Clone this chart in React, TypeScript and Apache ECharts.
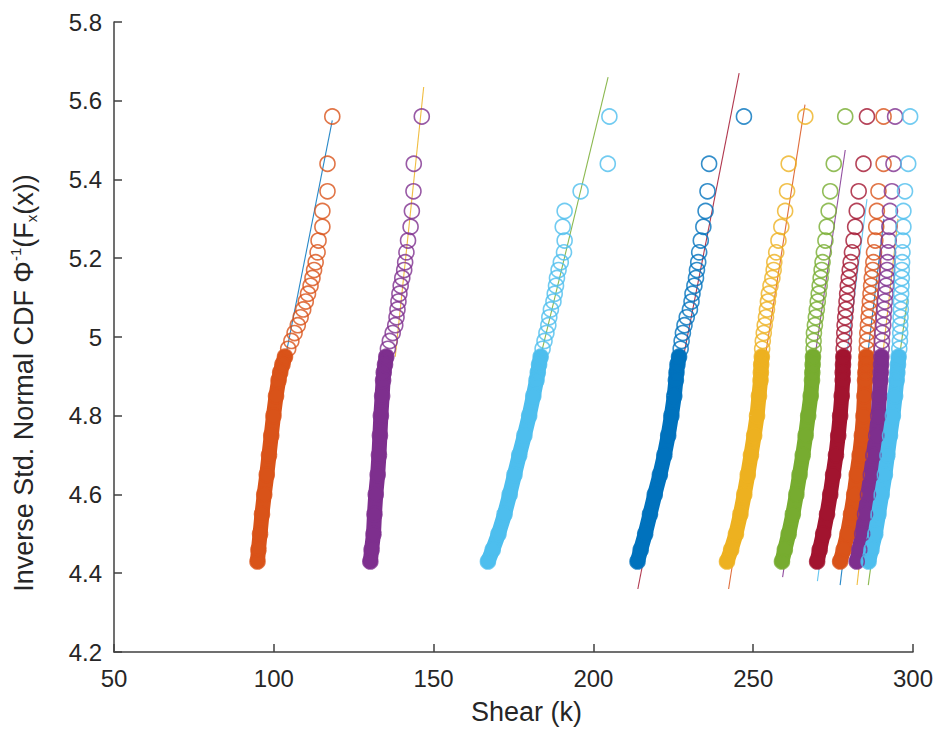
import React, { useEffect, useRef } from 'react';
import * as echarts from 'echarts';

// Shared plotting-position levels (y values)
const Y_LEVELS = [5.56, 5.44, 5.37, 5.32, 5.28, 5.245, 5.215, 5.19, 5.17, 5.15, 5.13, 5.11, 5.09, 5.07, 5.05, 5.03, 5.01, 4.99, 4.97, 4.95, 4.93, 4.91, 4.89, 4.85, 4.80, 4.75, 4.70, 4.65, 4.60, 4.55, 4.50, 4.46, 4.43];

// Shear values (x) of each sample set at those levels
const S1 = [118.3, 116.8, 116.8, 115.2, 115.2, 114.0, 113.7, 113.1, 112.6, 112.1, 111.5, 110.7, 110.0, 109.2, 108.4, 107.5, 106.5, 105.5, 104.5, 103.5, 102.7, 102.0, 101.5, 100.7, 99.9, 99.2, 98.5, 97.8, 97.0, 96.3, 95.7, 95.2, 94.9];
const S2 = [146.3, 143.8, 143.7, 143.2, 142.8, 142.0, 141.5, 141.1, 140.8, 140.2, 139.7, 139.3, 139.0, 138.7, 138.4, 138.0, 137.2, 136.3, 135.7, 135.2, 134.8, 134.4, 134.2, 133.9, 133.5, 133.2, 132.9, 132.5, 131.9, 131.5, 131.2, 130.6, 130.2];
const S3 = [205.0, 204.5, 196.0, 191.0, 190.4, 191.0, 190.8, 189.8, 189.1, 188.6, 188.3, 187.9, 187.5, 186.7, 186.2, 185.9, 185.3, 184.7, 184.1, 183.5, 183.0, 182.6, 182.2, 181.2, 179.9, 178.4, 176.8, 175.3, 173.8, 172.2, 170.3, 168.5, 167.0];
const S4 = [247.1, 236.2, 235.7, 235.1, 234.4, 233.6, 233.1, 232.8, 232.4, 232.1, 231.6, 231.0, 230.7, 230.2, 229.2, 228.5, 228.0, 227.6, 227.3, 226.8, 226.3, 226.0, 225.8, 225.3, 224.4, 223.4, 222.2, 220.8, 219.2, 217.7, 216.2, 214.8, 213.8];
const S5 = [266.3, 261.1, 260.6, 260.0, 258.8, 257.9, 257.2, 256.6, 256.4, 256.0, 255.4, 254.9, 254.6, 254.3, 254.0, 253.6, 253.3, 253.0, 252.8, 252.7, 252.5, 252.4, 252.3, 251.8, 251.2, 250.3, 249.3, 248.3, 247.2, 246.0, 244.6, 243.1, 241.8];
const S6 = [278.8, 275.2, 274.1, 273.6, 273.0, 272.6, 272.1, 271.7, 271.4, 271.1, 270.8, 270.5, 270.2, 269.9, 269.6, 269.3, 269.0, 268.9, 268.9, 268.7, 268.6, 268.5, 268.4, 268.0, 267.2, 266.4, 265.5, 264.5, 263.5, 262.4, 261.1, 259.9, 259.0];
const S7 = [285.6, 284.5, 283.0, 282.4, 281.9, 281.4, 280.9, 280.5, 280.2, 279.9, 279.6, 279.4, 279.2, 279.0, 278.8, 278.6, 278.5, 278.4, 278.3, 278.2, 278.1, 278.0, 278.0, 277.7, 277.2, 276.6, 275.9, 275.0, 274.1, 273.1, 271.9, 270.8, 270.0];
const S8 = [290.8, 290.8, 289.2, 288.7, 288.5, 288.2, 287.8, 287.6, 287.4, 287.1, 286.9, 286.7, 286.5, 286.3, 286.1, 285.9, 285.7, 285.6, 285.5, 285.4, 285.3, 285.1, 285.0, 284.8, 284.5, 284.0, 283.3, 282.4, 281.6, 280.6, 279.5, 278.3, 277.2];
const S9 = [294.4, 293.9, 293.4, 292.8, 292.6, 292.4, 292.2, 292.0, 291.9, 291.8, 291.6, 291.4, 291.2, 291.0, 290.8, 290.7, 290.4, 290.3, 290.2, 290.1, 290.0, 289.9, 289.8, 289.5, 289.1, 288.5, 287.6, 286.8, 285.9, 285.0, 284.1, 283.2, 282.4];
const S10 = [299.1, 298.5, 297.5, 297.0, 297.0, 296.8, 296.7, 296.6, 296.5, 296.5, 296.4, 296.3, 296.2, 296.2, 296.1, 296.0, 296.0, 295.9, 295.7, 295.5, 295.3, 295.1, 294.9, 294.4, 293.7, 292.8, 292.0, 291.2, 290.2, 289.2, 288.2, 287.0, 286.1];

const SAMPLES = [S1, S2, S3, S4, S5, S6, S7, S8, S9, S10];

// Fitted normal lines: endpoints (x0,y0) -> (x1,y1)
const FIT_X0 = [100.5, 138.0, 176.0, 213.9, 242.3, 259.2, 270.1, 277.2, 282.5, 286.0];
const FIT_Y0 = [4.82, 4.95, 4.70, 4.36, 4.36, 4.39, 4.38, 4.37, 4.37, 4.37];
const FIT_X1 = [118.3, 146.9, 204.6, 245.6, 266.2, 278.8, 285.6, 290.9, 295.3, 298.3];
const FIT_Y1 = [5.55, 5.635, 5.66, 5.67, 5.59, 5.475, 5.35, 5.30, 5.30, 5.10];

// Axis ticks
const X_MIN = 50, X_MAX = 300, X_STEP = 50;
const Y_MIN = 4.2, Y_MAX = 5.8, Y_STEP = 0.2;

const MARKER_COLORS = ['#D95319', '#7E2F8E', '#4DBEEE', '#0072BD', '#EDB120', '#77AC30', '#A2142F', '#D95319', '#7E2F8E', '#4DBEEE'];
const LINE_COLORS = ['#0072BD', '#EDB120', '#77AC30', '#A2142F', '#D95319', '#7E2F8E', '#4DBEEE', '#0072BD', '#EDB120', '#77AC30'];

const BAND_TOP = 4.95;
const FONT = 'Liberation Sans, Arial, sans-serif';
const TXT = '#262626';
const AX = '#404040';

export default function App() {
  const ref = useRef<HTMLDivElement>(null);
  useEffect(() => {
    document.body.style.margin = '0';
    const chart = echarts.init(ref.current!, undefined, { renderer: 'svg' });
    const series: any[] = [];
    SAMPLES.forEach((xs, i) => {
      series.push({
        type: 'line',
        z: 2,
        data: [[FIT_X0[i], FIT_Y0[i]], [FIT_X1[i], FIT_Y1[i]]],
        symbol: 'none',
        lineStyle: { color: LINE_COLORS[i], width: 1.1, opacity: 0.85 },
        silent: true,
      });
    });
    SAMPLES.forEach((xs, i) => {
      const pts = xs.map((x, k) => [x, Y_LEVELS[k]]);
      series.push({
        type: 'line',
        z: 3,
        data: pts.filter((p) => p[1] <= BAND_TOP),
        symbol: 'none',
        lineStyle: { color: MARKER_COLORS[i], width: 15, cap: 'round', join: 'round' },
        silent: true,
      });
      series.push({
        type: 'scatter',
        z: 4,
        data: pts,
        symbol: 'circle',
        symbolSize: 15,
        itemStyle: { color: 'rgba(0,0,0,0)', borderColor: MARKER_COLORS[i], borderWidth: 1.6, opacity: 0.8 },
        silent: true,
      });
    });
    chart.setOption({
      animation: false,
      backgroundColor: '#ffffff',
      grid: { left: 111, right: 25, top: 22, bottom: 86 },
      xAxis: {
        type: 'value',
        min: X_MIN,
        max: X_MAX,
        interval: X_STEP,
        name: 'Shear (k)',
        nameLocation: 'middle',
        nameGap: 46,
        nameTextStyle: { fontFamily: FONT, fontSize: 27, color: TXT, padding: [0, 0, 0, 26] },
        axisLine: { show: true, onZero: false, lineStyle: { color: AX, width: 1.5 } },
        axisTick: { show: true, inside: true, length: 8, lineStyle: { color: AX, width: 1.5 } },
        axisLabel: { fontFamily: FONT, fontSize: 24, color: TXT, margin: 14 },
        splitLine: { show: false },
      },
      yAxis: {
        type: 'value',
        min: Y_MIN,
        max: Y_MAX,
        interval: Y_STEP,
        name: 'Inverse Std. Normal CDF Φ{sup|-1}(F{sub|x}(x))',
        nameLocation: 'middle',
        nameGap: 75,
        nameTextStyle: {
          fontFamily: FONT,
          fontSize: 27,
          color: TXT,
          padding: [0, 92, 0, 0],
          rich: {
            sup: { fontFamily: FONT, fontSize: 15, color: TXT, verticalAlign: 'top', lineHeight: 31 },
            sub: { fontFamily: FONT, fontSize: 15, color: TXT, verticalAlign: 'bottom', lineHeight: 31 },
          },
        },
        axisLine: { show: true, lineStyle: { color: AX, width: 1.5 } },
        axisTick: { show: true, inside: true, length: 8, lineStyle: { color: AX, width: 1.5 } },
        axisLabel: {
          fontFamily: FONT,
          fontSize: 24,
          color: TXT,
          margin: 12,
          formatter: (v: number) => String(Math.round(v * 10) / 10),
        },
        splitLine: { show: false },
      },
      series,
    });
    return () => chart.dispose();
  }, []);
  return <div ref={ref} style={{ width: 938, height: 738 }} />;
}
